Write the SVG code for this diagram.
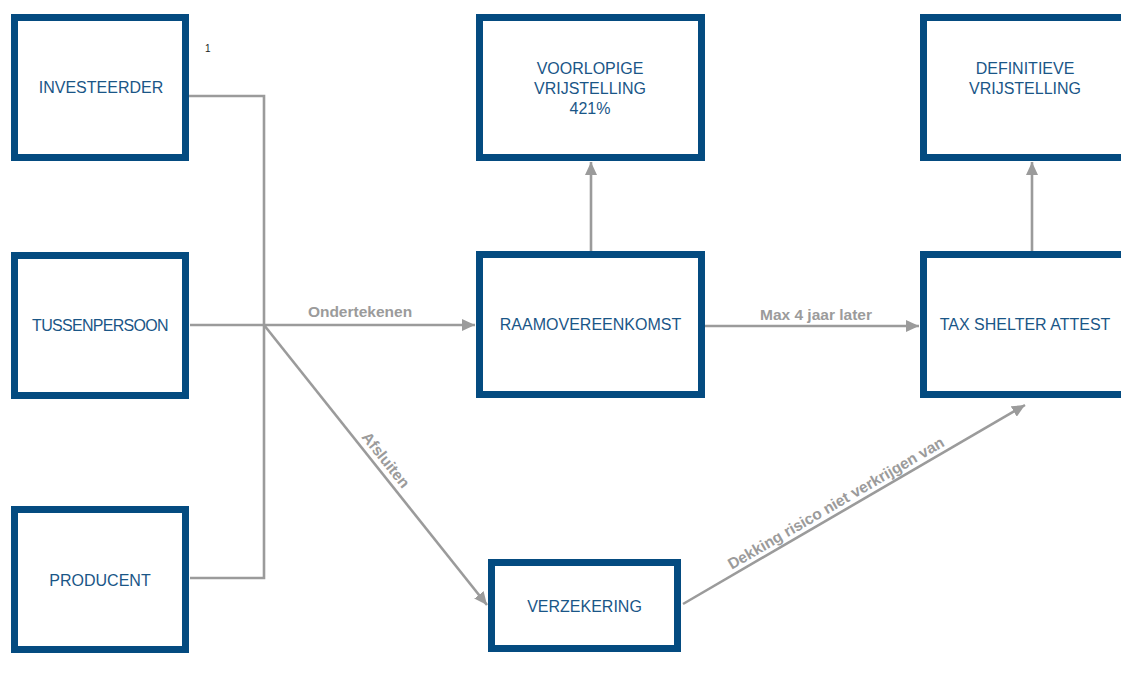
<svg xmlns="http://www.w3.org/2000/svg" width="1121" height="688" viewBox="0 0 1121 688">
<style>
.box{fill:#fff;stroke:#044b80;stroke-width:7}
.lbl{font-family:"Liberation Sans",Arial,Helvetica,sans-serif;font-size:16px;fill:#1a5687;text-anchor:middle}
.con{fill:none;stroke:#9b9b9b;stroke-width:2.6}
.clbl{font-family:"Liberation Sans",Arial,Helvetica,sans-serif;font-size:15.5px;font-weight:bold;fill:#9b9b9b;text-anchor:middle}
.note{font-family:"Liberation Sans",Arial,Helvetica,sans-serif;font-size:10px;fill:#222}
</style>
<defs>
<marker id="ah" viewBox="0 0 13 12" refX="13" refY="6" markerWidth="13" markerHeight="12" markerUnits="userSpaceOnUse" orient="auto">
<path d="M0,0 L13,6 L0,12 Z" fill="#9b9b9b"/>
</marker>
</defs>
<rect width="1121" height="688" fill="#fff"/>
<g id="connectors">
<polyline class="con" points="189,96 264,96 264,578 190,578"/>
<line class="con" x1="190" y1="325" x2="475" y2="325" marker-end="url(#ah)"/>
<line class="con" x1="264" y1="325" x2="487" y2="605" marker-end="url(#ah)"/>
<line class="con" x1="705" y1="326" x2="919" y2="326" marker-end="url(#ah)"/>
<line class="con" x1="591" y1="251" x2="591" y2="162" marker-end="url(#ah)"/>
<line class="con" x1="1032" y1="251" x2="1032" y2="162" marker-end="url(#ah)"/>
<line class="con" x1="683" y1="604" x2="1025" y2="405" marker-end="url(#ah)"/>
<text class="clbl" x="360" y="317">Ondertekenen</text>
<text class="clbl" x="816" y="320">Max 4 jaar later</text>
<text class="clbl" transform="translate(377,467) rotate(51.4)" x="0" y="-6">Afsluiten</text>
<text class="clbl" transform="translate(841,512) rotate(-30.2)" x="0" y="-5">Dekking risico niet verkrijgen van</text>
</g>
<text class="note" x="205" y="52">1</text>
<g id="investeerder">
<rect class="box" x="14.5" y="17.5" width="171" height="140"/>
<text class="lbl" x="101" y="93">INVESTEERDER</text>
</g>
<g id="tussenpersoon">
<rect class="box" x="14.5" y="255.5" width="171" height="140"/>
<text class="lbl" x="100" y="331" letter-spacing="-0.7">TUSSENPERSOON</text>
</g>
<g id="producent">
<rect class="box" x="14.5" y="509.5" width="171" height="140"/>
<text class="lbl" x="100" y="586">PRODUCENT</text>
</g>
<g id="voorlopige">
<rect class="box" x="479.5" y="17.5" width="222" height="140"/>
<text class="lbl" x="590" y="74">VOORLOPIGE</text>
<text class="lbl" x="590" y="94">VRIJSTELLING</text>
<text class="lbl" x="590" y="114">421%</text>
</g>
<g id="raamovereenkomst">
<rect class="box" x="479.5" y="254.5" width="222" height="140"/>
<text class="lbl" x="590.5" y="330">RAAMOVEREENKOMST</text>
</g>
<g id="definitieve">
<rect class="box" x="923.5" y="17.5" width="204" height="140"/>
<text class="lbl" x="1025" y="74">DEFINITIEVE</text>
<text class="lbl" x="1025" y="94">VRIJSTELLING</text>
</g>
<g id="taxshelter">
<rect class="box" x="923.5" y="254.5" width="204" height="140"/>
<text class="lbl" x="1025" y="330">TAX SHELTER ATTEST</text>
</g>
<g id="verzekering">
<rect class="box" x="491.5" y="562.5" width="186" height="86"/>
<text class="lbl" x="584.5" y="612">VERZEKERING</text>
</g>
</svg>
